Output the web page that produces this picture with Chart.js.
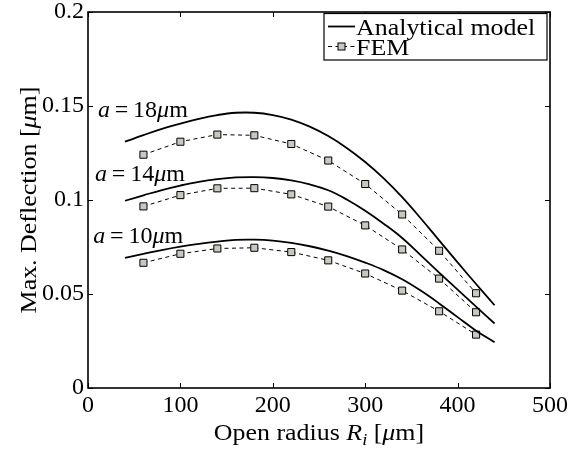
<!DOCTYPE html>
<html>
<head>
<meta charset="utf-8">
<script src="https://cdn.jsdelivr.net/npm/chart.js@4.4.1/dist/chart.umd.min.js"></script>
<style>
  html, body { margin: 0; padding: 0; background: #ffffff; }
  #wrap { width: 569px; height: 450px; }
</style>
</head>
<body>
<div id="wrap"><canvas id="c" width="569" height="450"></canvas></div>
<script>
// Open radius R_i (µm) for the analytical curves
const radiusModel = [40, 60, 80, 100, 120, 140, 160, 180, 200, 220, 240, 260, 280, 300, 320, 340, 360, 380, 400, 420, 440];
// Analytical maximum deflection (µm) for a = 18, 14, 10 µm
const model18 = [0.1310, 0.1345, 0.1378, 0.1406, 0.1432, 0.1452, 0.1464, 0.1464, 0.1452, 0.1428, 0.1390, 0.1340, 0.1277, 0.1202, 0.1115, 0.1015, 0.0903, 0.0785, 0.0668, 0.0553, 0.0440];
const model14 = [0.0996, 0.1025, 0.1053, 0.1077, 0.1097, 0.1111, 0.1120, 0.1122, 0.1117, 0.1104, 0.1083, 0.1052, 0.1003, 0.0943, 0.0874, 0.0798, 0.0707, 0.0614, 0.0523, 0.0433, 0.0343];
const model10 = [0.0692, 0.0713, 0.0734, 0.0752, 0.0767, 0.0779, 0.0788, 0.0789, 0.0784, 0.0772, 0.0754, 0.0731, 0.0702, 0.0667, 0.0627, 0.0578, 0.0518, 0.0450, 0.0377, 0.0305, 0.0243];

// FEM sample radii and results
const radiusFem = [60, 100, 140, 180, 220, 260, 300, 340, 380, 420];
const fem18 = [0.1241, 0.1310, 0.1348, 0.1344, 0.1298, 0.1210, 0.1085, 0.0923, 0.0730, 0.0504];
const fem14 = [0.0966, 0.1026, 0.1062, 0.1063, 0.1030, 0.0965, 0.0865, 0.0737, 0.0582, 0.0403];
const fem10 = [0.0666, 0.0714, 0.0742, 0.0746, 0.0723, 0.0679, 0.0609, 0.0518, 0.0408, 0.0284];

// Axis ticks
const xTicks = [0, 100, 200, 300, 400, 500];
const yTicks = [0, 0.05, 0.1, 0.15, 0.2];

// Hole size labels
const holeSizes = ['18', '14', '10'];

const SERIF = '"Liberation Serif", "Times New Roman", serif';
const pts = (xs, ys) => xs.map((x, i) => ({ x: x, y: ys[i] }));

const modelStyle = {
  borderColor: '#000000', borderWidth: 1.8, pointRadius: 0,
  tension: 0.4, fill: false
};
const femStyle = {
  borderColor: '#000000', borderWidth: 1, borderDash: [4, 3.5],
  pointStyle: 'rect', pointRadius: 5, pointBackgroundColor: '#c9c7bf',
  pointBorderColor: '#000000', pointBorderWidth: 1, tension: 0, fill: false
};

// Draws a run of text pieces: [text, 'n' | 'i' | 's'] (normal, italic, italic subscript),
// with an optional horizontal stretch k
function richText(ctx, parts, x, y, size, align, k) {
  k = k || 1;
  const fontOf = st => (st === 'n' ? '' : 'italic ') + (st === 's' ? Math.round(size * 0.7) : size) + 'px ' + SERIF;
  let total = 0;
  const widths = parts.map(p => { ctx.font = fontOf(p[1]); const w = ctx.measureText(p[0]).width * k; total += w; return w; });
  let cx = align === 'center' ? x - total / 2 : x;
  ctx.textAlign = 'left';
  ctx.textBaseline = 'alphabetic';
  parts.forEach((p, i) => {
    ctx.font = fontOf(p[1]);
    ctx.save();
    ctx.translate(cx, p[1] === 's' ? y + size * 0.22 : y);
    ctx.scale(k, 1);
    ctx.fillText(p[0], 0, 0);
    ctx.restore();
    cx += widths[i];
  });
}

const framePlugin = {
  id: 'frame',
  afterDraw(chart) {
    const { ctx, chartArea: a, scales } = chart;
    const xs = scales.x, ys = scales.y;
    ctx.save();
    ctx.fillStyle = '#000';
    ctx.strokeStyle = '#000';

    // inward tick marks on all four sides
    ctx.lineWidth = 1;
    const tl = 5;
    ctx.beginPath();
    xTicks.forEach(v => {
      const px = Math.round(xs.getPixelForValue(v)) + 0.5;
      ctx.moveTo(px, a.bottom); ctx.lineTo(px, a.bottom - tl);
      ctx.moveTo(px, a.top); ctx.lineTo(px, a.top + tl);
    });
    yTicks.forEach(v => {
      const py = Math.round(ys.getPixelForValue(v)) + 0.5;
      ctx.moveTo(a.left, py); ctx.lineTo(a.left + tl, py);
      ctx.moveTo(a.right, py); ctx.lineTo(a.right - tl, py);
    });
    ctx.stroke();

    // plot box
    ctx.lineWidth = 1.6;
    ctx.strokeRect(a.left, a.top, a.right - a.left, a.bottom - a.top);

    // hole size labels next to each pair of curves
    const anchors = [[10.8, 0.1443], [7.6, 0.1100], [5.7, 0.0770]];
    holeSizes.forEach((s, i) => {
      const px = xs.getPixelForValue(anchors[i][0]);
      const py = ys.getPixelForValue(anchors[i][1]);
      richText(ctx, [['a', 'i'], ['\u2009=\u2009', 'n'], [s, 'n'], ['\u03bc', 'i'], ['m', 'n']], px, py, 24, 'left', 1);
    });

    // axis titles
    richText(ctx, [['Open radius ', 'n'], ['R', 'i'], ['i', 's'], [' [', 'n'], ['\u03bc', 'i'], ['m]', 'n']],
      (a.left + a.right) / 2, 440, 24, 'center', 1.08);
    ctx.save();
    ctx.translate(36, (a.top + a.bottom) / 2);
    ctx.rotate(-Math.PI / 2);
    richText(ctx, [['Max. Deflection [', 'n'], ['\u03bc', 'i'], ['m]', 'n']], 0, 0, 24, 'center', 1.08);
    ctx.restore();

    // legend box
    const lx = 324, lt = a.top + 1.5, lr = a.right - 3, lb = 60;
    ctx.fillStyle = '#fff';
    ctx.fillRect(lx, lt, lr - lx, lb - lt);
    ctx.lineWidth = 1.2;
    ctx.strokeRect(lx, lt, lr - lx, lb - lt);
    const dsModel = chart.data.datasets[0];
    const dsFem = chart.data.datasets[3];
    const rows = [lt + 13, lt + 33];
    // analytical sample
    ctx.strokeStyle = dsModel.borderColor;
    ctx.lineWidth = dsModel.borderWidth;
    ctx.beginPath(); ctx.moveTo(lx + 4, rows[0]); ctx.lineTo(lx + 31, rows[0]); ctx.stroke();
    // FEM sample
    ctx.lineWidth = dsFem.borderWidth;
    ctx.setLineDash(dsFem.borderDash);
    ctx.beginPath(); ctx.moveTo(lx + 4, rows[1]); ctx.lineTo(lx + 31, rows[1]); ctx.stroke();
    ctx.setLineDash([]);
    ctx.fillStyle = dsFem.pointBackgroundColor;
    ctx.fillRect(lx + 14, rows[1] - 3.5, 7, 7);
    ctx.strokeStyle = '#000';
    ctx.lineWidth = 1;
    ctx.strokeRect(lx + 14, rows[1] - 3.5, 7, 7);
    ctx.fillStyle = '#000';
    richText(ctx, [[dsModel.label, 'n']], lx + 32, rows[0] + 8, 24, 'left', 1.08);
    richText(ctx, [[dsFem.label, 'n']], lx + 32, rows[1] + 8, 24, 'left', 1.08);
    ctx.restore();
  }
};

const tickFont = { family: SERIF, size: 24, lineHeight: 1 };

new Chart(document.getElementById('c'), {
  type: 'line',
  data: {
    datasets: [
      Object.assign({ label: 'Analytical model', data: pts(radiusModel, model18) }, modelStyle),
      Object.assign({ label: 'Analytical model a=14', data: pts(radiusModel, model14) }, modelStyle),
      Object.assign({ label: 'Analytical model a=10', data: pts(radiusModel, model10) }, modelStyle),
      Object.assign({ label: 'FEM', data: pts(radiusFem, fem18) }, femStyle),
      Object.assign({ label: 'FEM a=14', data: pts(radiusFem, fem14) }, femStyle),
      Object.assign({ label: 'FEM a=10', data: pts(radiusFem, fem10) }, femStyle)
    ]
  },
  options: {
    responsive: false,
    animation: false,
    devicePixelRatio: 1,
    layout: { padding: { top: 12, right: 19, left: 0, bottom: 0 } },
    plugins: { legend: { display: false }, tooltip: { enabled: false } },
    scales: {
      x: {
        type: 'linear', min: 0, max: 500,
        afterBuildTicks: s => { s.ticks = xTicks.map(v => ({ value: v })); },
        afterFit: s => { s.height = 62; s.paddingLeft = 0; s.paddingRight = 0; },
        grid: { display: false, drawTicks: false },
        border: { display: false },
        ticks: { font: tickFont, color: '#000', padding: 6, maxRotation: 0, autoSkip: false,
                 callback: v => String(v) }
      },
      y: {
        type: 'linear', min: 0, max: 0.2,
        afterBuildTicks: s => { s.ticks = yTicks.map(v => ({ value: v })); },
        afterFit: s => { s.width = 88; s.paddingTop = 0; s.paddingBottom = 0; },
        grid: { display: false, drawTicks: false },
        border: { display: false },
        ticks: { font: tickFont, color: '#000', padding: 4, autoSkip: false,
                 callback: v => String(v) }
      }
    }
  },
  plugins: [framePlugin]
});
</script>
</body>
</html>
